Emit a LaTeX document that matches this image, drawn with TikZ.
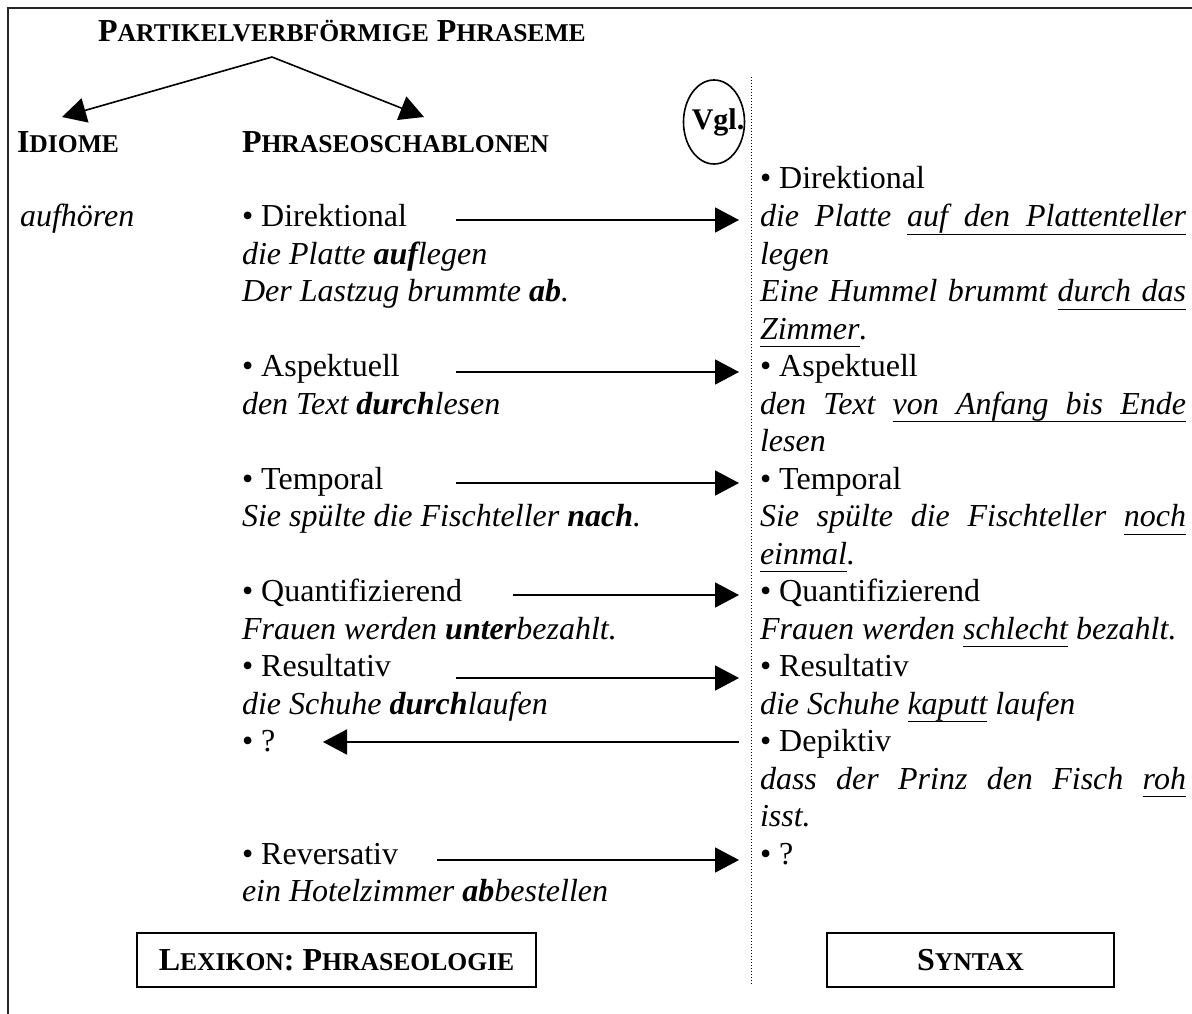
\documentclass[tikz,border=0pt]{standalone}
\usepackage{fontspec}
\setmainfont{Liberation Serif}
\usetikzlibrary{arrows.meta,shapes.geometric}
% reduced capitals for the small-caps headings
\newcommand\smc{\fontsize{25.6pt}{30pt}\selectfont}
% underlined word, rule set a fixed distance under the baseline
\newcommand\uw[1]{\leavevmode\setbox0\hbox{#1}\rlap{\vrule height -7pt depth 8.4pt width \wd0}\box0\relax}
% stretchable word spaces for full-width lines (plain and underlined)
\newcommand\js{\hskip .25em plus 1fil\relax}
\newcommand\ujs{\leaders\vrule height -7pt depth 8.4pt\hskip .25em plus 1fil\relax}
% a line stretched to the full width of the right column
\newcommand\jline[1]{\hbox to 426pt{#1}}
\begin{document}
\begin{tikzpicture}[x=1pt,y=-1pt,
  every node/.style={inner sep=0pt, outer sep=0pt, font=\fontsize{32pt}{37.5pt}\selectfont},
  txt/.style={anchor=base west},
  itx/.style={anchor=base west, font=\fontsize{32pt}{37.5pt}\selectfont\itshape},
  head/.style={anchor=base west, font=\fontsize{32pt}{37.5pt}\selectfont\bfseries},
  link/.style={line width=1.9pt, -{Triangle[length=24pt,width=25pt]}},
  frame/.style={line width=1.5pt, black!85},
  label box/.style={draw, line width=1.8pt, minimum height=54pt,
    font=\fontsize{32pt}{37.5pt}\selectfont\bfseries},
  sep/.style={line width=1pt, dash pattern=on 1.2pt off 1.8pt},
]
\fill[white] (0,0) rectangle (1192,1014);
\useasboundingbox (0,0) rectangle (1192,1014);

% outer frame (top and left)
\draw[frame] (8,1014) -- (8,8) -- (1192,8);

% title and its two branches
\node[head, anchor=base] (title) at (342,42) {P{\smc ARTIKELVERBFÖRMIGE} P{\smc HRASEME}};
\coordinate (apex) at (272,57);
\coordinate (tipL) at (62,117);
\coordinate (tipR) at (424,117);
\draw[link, line width=1.6pt] (apex) -- (tipL);
\draw[link, line width=1.6pt] (apex) -- (tipR);

\node[head] (idiome) at (17,153) {I{\smc DIOME}};
\node[head] (schab) at (242,153) {P{\smc HRASEOSCHABLONEN}};

% comparison mark and column separator
\node[draw, ellipse, line width=1.6pt, minimum width=61pt, minimum height=84pt] (vgl) at (714,122) {};
\node[font=\fontsize{30pt}{34pt}\selectfont\bfseries] (vgltext) at (718,122) {Vgl.};
\coordinate (sepT) at (751,77);
\coordinate (sepB) at (751,985);
\draw[sep] (sepT) -- (sepB);

% left column: lexicon
\node[itx] (auf) at (20,226.5) {aufhören};
\node[txt] (l1) at (242,226.5) {• Direktional};
\node[itx] (l2) at (242,264) {die Platte \textbf{auf}legen};
\node[itx] (l3) at (242,301.5) {Der Lastzug brummte \textbf{ab}.};
\node[txt] (l5) at (242,376.5) {• Aspektuell};
\node[itx] (l6) at (242,414) {den Text \textbf{durch}lesen};
\node[txt] (l8) at (242,489) {• Temporal};
\node[itx] (l9) at (242,526.5) {Sie spülte die Fischteller \textbf{nach}.};
\node[txt] (l11) at (242,601.5) {• Quantifizierend};
\node[itx] (l12) at (242,639) {Frauen werden \textbf{unter}bezahlt.};
\node[txt] (l13) at (242,676.5) {• Resultativ};
\node[itx] (l14) at (242,714) {die Schuhe \textbf{durch}laufen};
\node[txt] (l15) at (242,751.5) {• ?};
\node[txt] (l18) at (242,864) {• Reversativ};
\node[itx] (l19) at (242,901.5) {ein Hotelzimmer \textbf{ab}bestellen};

% right column: syntax
\node[txt] (r0) at (760,189) {• Direktional};
\node[itx] (r1) at (760,226.5) {\jline{die\js Platte\js\uw{auf}\ujs\uw{den}\ujs\uw{Plattenteller}}};
\node[itx] (r2) at (760,264) {legen};
\node[itx] (r3) at (760,301.5) {\jline{Eine\js Hummel\js brummt\js\uw{durch}\ujs\uw{das}}};
\node[itx] (r4) at (760,339) {\uw{Zimmer}.};
\node[txt] (r5) at (760,376.5) {• Aspektuell};
\node[itx] (r6) at (760,414) {\jline{den\js Text\js\uw{von}\ujs\uw{Anfang}\ujs\uw{bis}\ujs\uw{Ende}}};
\node[itx] (r7) at (760,451.5) {lesen};
\node[txt] (r8) at (760,489) {• Temporal};
\node[itx] (r9) at (760,526.5) {\jline{Sie\js spülte\js die\js Fischteller\js\uw{noch}}};
\node[itx] (r10) at (760,564) {\uw{einmal}.};
\node[txt] (r11) at (760,601.5) {• Quantifizierend};
\node[itx] (r12) at (760,639) {Frauen werden \uw{schlecht} bezahlt.};
\node[txt] (r13) at (760,676.5) {• Resultativ};
\node[itx] (r14) at (760,714) {die Schuhe \uw{kaputt} laufen};
\node[txt] (r15) at (760,751.5) {• Depiktiv};
\node[itx] (r16) at (760,789) {\jline{dass\js der\js Prinz\js den\js Fisch\js\uw{roh}}};
\node[itx] (r17) at (760,826.5) {isst.};
\node[txt] (r18) at (760,864) {• ?};

% correspondences between the columns
\coordinate (a1) at (456,220);  \coordinate (b1) at (739,220);
\coordinate (a2) at (456,372);  \coordinate (b2) at (739,372);
\coordinate (a3) at (456,483);  \coordinate (b3) at (739,483);
\coordinate (a4) at (513,595);  \coordinate (b4) at (739,595);
\coordinate (a5) at (456,678);  \coordinate (b5) at (739,678);
\coordinate (a6) at (739,742);  \coordinate (b6) at (323,742);
\coordinate (a7) at (437,860);  \coordinate (b7) at (739,860);
\foreach \i in {1,...,7} \draw[link] (a\i) -- (b\i);

% domain labels
\node[label box, minimum width=399pt] (lex) at (336.5,960) {L{\smc EXIKON}: P{\smc HRASEOLOGIE}};
\node[label box, minimum width=287pt] (syn) at (970.5,960) {S{\smc YNTAX}};
\end{tikzpicture}
\end{document}
